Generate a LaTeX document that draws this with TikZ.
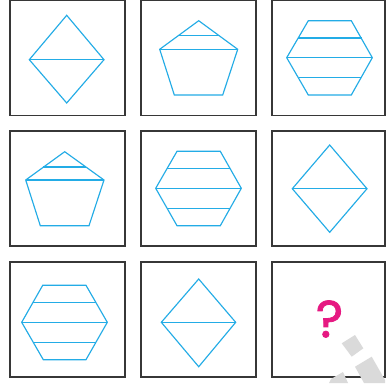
\documentclass[tikz,border=0pt]{standalone}
\usepackage{fontspec}
\setmainfont{Liberation Sans}
\newfontfamily\qfont[FakeBold=1.6]{Poppins}
\definecolor{shapeblue}{RGB}{35,172,230}
\definecolor{framegray}{RGB}{55,55,55}
\definecolor{qpink}{RGB}{230,25,130}
\definecolor{wmgray}{RGB}{218,218,218}
\tikzset{
  cell/.style={draw=framegray, line width=1.3pt, fill=white},
  fig/.style={draw=shapeblue, line width=1.15pt, line join=miter},
  wm/.style={fill=wmgray, draw=none}
}
\begin{document}
\begin{tikzpicture}[x=1pt,y=-1pt]
\useasboundingbox (0,0) rectangle (387,383);
\fill[white] (0,0) rectangle (387,383);
% frames
\foreach \cx/\cy/\w in {10/0.6/115,141/0.6/115,272/0.6/113,10/131/115,141/131/115,272/131/113,10/262/115,141/262/115,272/262/113}{
  \draw[cell] (\cx,\cy) rectangle ++(\w,115);
}
% watermark
\fill[wm] (341.7,343.3) -- (355,335) -- (363.3,348.3) -- (351.7,356.7) -- cycle;
\fill[wm] (355,366.7) -- (371.7,356.7) -- (385,380) -- (385,383) -- (364,383) -- cycle;
\fill[wm] (331,379) -- (343,372) -- (348,383) -- (329,383) -- cycle;
% row 1 col 1 diamond
\draw[fig] (66.7,15.3) coordinate (d1t) -- (104,59.7) coordinate (d1r) -- (66.7,103) -- (29.3,59.7) coordinate (d1l) -- cycle;
\draw[fig] (d1l) -- (d1r);
% row 1 col 2 pentagon
\draw[fig] (198.7,20.7) -- (237.7,49.3) coordinate (p1r) -- (222.7,95) -- (174.3,95) -- (159.7,49.3) coordinate (p1l) -- cycle;
\draw[fig] (p1l) -- (p1r);
\draw[fig] (177.9,35.7) -- (219.3,35.7);
% row 1 col 3 hexagon
\draw[fig] (308.3,20.7) -- (351.3,20.7) -- (372.3,57.7) coordinate (h1r) -- (351.3,95) -- (308.3,95) -- (286.7,57.7) coordinate (h1l) -- cycle;
\draw[fig] (h1l) -- (h1r);
\draw[fig] (298.4,38) -- (361.5,38);
\draw[fig] (298.5,77.7) -- (361.2,77.7);
% row 2 col 1 pentagon
\draw[fig] (64.7,151.7) -- (104,180) coordinate (p2r) -- (89,225.7) -- (40.3,225.7) -- (25.7,180) coordinate (p2l) -- cycle;
\draw[fig] (p2l) -- (p2r);
\draw[fig] (43.3,167) -- (86.2,167);
% row 2 col 2 hexagon
\draw[fig] (177,151.3) -- (220.3,151.3) -- (241.3,188.3) coordinate (h2r) -- (220.3,225.7) -- (177,225.7) -- (155.7,188.3) coordinate (h2l) -- cycle;
\draw[fig] (h2l) -- (h2r);
\draw[fig] (166.9,168.7) -- (230.3,168.7);
\draw[fig] (166.8,208.3) -- (230.4,208.3);
% row 2 col 3 diamond
\draw[fig] (329.7,145) -- (367,188.7) coordinate (d2r) -- (329.7,232.3) -- (292.3,188.7) coordinate (d2l) -- cycle;
\draw[fig, line width=1.5pt] (d2l) -- (d2r);
% row 3 col 1 hexagon
\draw[fig] (42.7,285.3) -- (86,285.3) -- (107.3,322.3) coordinate (h3r) -- (86,359.7) -- (43.3,359.7) -- (21.7,322.3) coordinate (h3l) -- cycle;
\draw[fig] (h3l) -- (h3r);
\draw[fig] (33.2,302.7) -- (96,302.7);
\draw[fig] (33,342.7) -- (95.7,342.7);
% row 3 col 2 diamond
\draw[fig] (198.7,279) -- (235.7,322.3) coordinate (d3r) -- (198.7,366.7) -- (161.3,322.3) coordinate (d3l) -- cycle;
\draw[fig, line width=1.5pt] (d3l) -- (d3r);
% question mark
\node[text=qpink, font=\qfont\fontsize{52}{52}\selectfont, inner sep=0pt] (q) at (329.5,319) {?};
\end{tikzpicture}
\end{document}
